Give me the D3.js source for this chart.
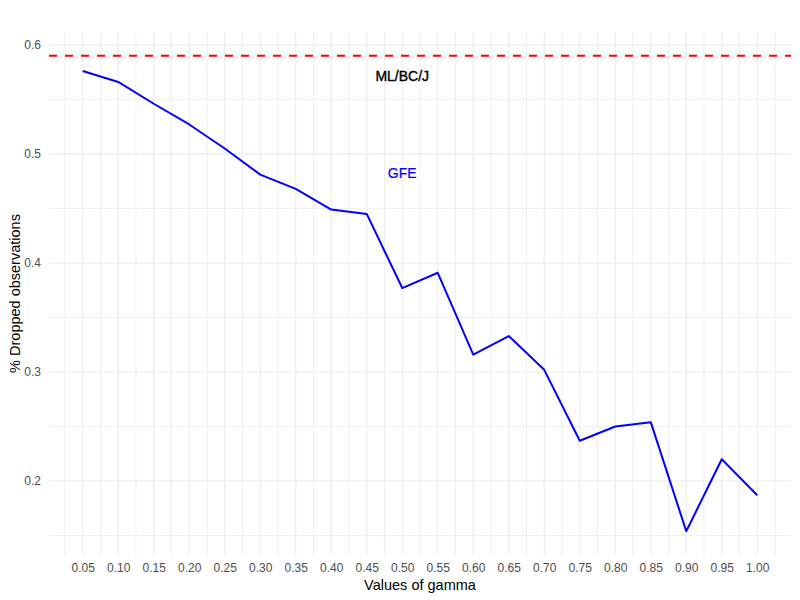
<!DOCTYPE html>
<html>
<head>
<meta charset="utf-8">
<script src="https://cdn.jsdelivr.net/npm/d3@7"></script>
<style>
  body { margin: 0; background: #fff; }
  text { font-family: "Liberation Sans", Arial, sans-serif; }
</style>
</head>
<body>
<div id="chart"></div>
<script>
var width = 800
var height = 600

// values of gamma and share of dropped observations (GFE)
var gamma = [0.05, 0.10, 0.15, 0.20, 0.25, 0.30, 0.35, 0.40, 0.45, 0.50,
             0.55, 0.60, 0.65, 0.70, 0.75, 0.80, 0.85, 0.90, 0.95, 1.00]
var dropped = [0.576, 0.566, 0.546, 0.527, 0.505, 0.481, 0.468, 0.449, 0.445, 0.377,
               0.391, 0.316, 0.333, 0.302, 0.237, 0.250, 0.254, 0.154, 0.220, 0.187]
var mlLevel = 0.59

var yMajor = [0.2, 0.3, 0.4, 0.5, 0.6]
var yMinor = [0.15, 0.25, 0.35, 0.45, 0.55]

var panel = { left: 49, right: 791, top: 32, bottom: 555 }

var svg = d3.select("#chart")
    .append("svg")
    .attr("width", width)
    .attr("height", height)

// ggplot style 5% expansion
var xExt = d3.extent(gamma)
var xPad = (xExt[1] - xExt[0]) * 0.05
var xScale = d3.scaleLinear()
    .domain([xExt[0] - xPad, xExt[1] + xPad])
    .range([panel.left, panel.right])

var yExt = d3.extent(dropped.concat([mlLevel]))
var yPad = (yExt[1] - yExt[0]) * 0.05
var yScale = d3.scaleLinear()
    .domain([yExt[0] - yPad, yExt[1] + yPad])
    .range([panel.bottom, panel.top])

// grid: minor x lines sit halfway between the gamma values
var xMinor = gamma.map(function(g) { return g - 0.025 }).concat([1.025])

var grid = svg.append("g")
grid.selectAll(".xminor").data(xMinor).enter().append("line")
    .attr("x1", d => xScale(d)).attr("x2", d => xScale(d))
    .attr("y1", panel.top).attr("y2", panel.bottom)
    .attr("stroke", "#ebebeb").attr("stroke-width", 0.8)
grid.selectAll(".yminor").data(yMinor).enter().append("line")
    .attr("y1", d => yScale(d)).attr("y2", d => yScale(d))
    .attr("x1", panel.left).attr("x2", panel.right)
    .attr("stroke", "#ebebeb").attr("stroke-width", 0.8)
grid.selectAll(".xmajor").data(gamma).enter().append("line")
    .attr("x1", d => xScale(d)).attr("x2", d => xScale(d))
    .attr("y1", panel.top).attr("y2", panel.bottom)
    .attr("stroke", "#ebebeb").attr("stroke-width", 1.1)
grid.selectAll(".ymajor").data(yMajor).enter().append("line")
    .attr("y1", d => yScale(d)).attr("y2", d => yScale(d))
    .attr("x1", panel.left).attr("x2", panel.right)
    .attr("stroke", "#ebebeb").attr("stroke-width", 1.1)

// axes, text only
var xAxis = d3.axisBottom(xScale)
    .tickValues(gamma)
    .tickFormat(d3.format(".2f"))
    .tickSize(0)
    .tickPadding(0)
var gx = svg.append("g")
    .attr("transform", "translate(0," + panel.bottom + ")")
    .call(xAxis)
gx.select(".domain").remove()
gx.selectAll("text")
    .attr("y", 17)
    .attr("dy", null)
    .style("font-size", "12px")
    .style("font-family", "Liberation Sans, Arial, sans-serif")
    .attr("fill", "#4d4d4d")

var yAxis = d3.axisLeft(yScale)
    .tickValues(yMajor)
    .tickFormat(d3.format(".1f"))
    .tickSize(0)
    .tickPadding(8)
var gy = svg.append("g")
    .attr("transform", "translate(" + panel.left + ",0)")
    .call(yAxis)
gy.select(".domain").remove()
gy.selectAll("text")
    .style("font-size", "12px")
    .style("font-family", "Liberation Sans, Arial, sans-serif")
    .attr("fill", "#4d4d4d")

// ML/BC/J reference level
svg.append("line")
    .attr("x1", panel.left).attr("x2", panel.right)
    .attr("y1", yScale(mlLevel)).attr("y2", yScale(mlLevel))
    .attr("stroke", "#ff0000")
    .attr("stroke-width", 2)
    .attr("stroke-dasharray", "8,8")

// GFE line
var line = d3.line()
    .x((d, i) => xScale(gamma[i]))
    .y(d => yScale(d))
svg.append("path")
    .datum(dropped)
    .attr("d", line)
    .attr("fill", "none")
    .attr("stroke", "#0000ff")
    .attr("stroke-width", 2)
    .attr("stroke-linejoin", "round")

// annotations
svg.append("text")
    .attr("x", xScale(0.5)).attr("y", 81)
    .attr("text-anchor", "middle")
    .style("font-size", "14px")
    .attr("fill", "#000")
    .attr("stroke", "#000").attr("stroke-width", 0.4)
    .text("ML/BC/J")
svg.append("text")
    .attr("x", xScale(0.5)).attr("y", 178)
    .attr("text-anchor", "middle")
    .style("font-size", "14px")
    .attr("fill", "#0000ff")
    .attr("stroke", "#0000ff").attr("stroke-width", 0.2)
    .text("GFE")

// axis titles
svg.append("text")
    .attr("x", (panel.left + panel.right) / 2)
    .attr("y", 590)
    .attr("text-anchor", "middle")
    .style("font-size", "14.5px")
    .attr("fill", "#000")
    .text("Values of gamma")
svg.append("text")
    .attr("transform", "translate(20," + (panel.top + panel.bottom) / 2 + ") rotate(-90)")
    .attr("text-anchor", "middle")
    .style("font-size", "14.5px")
    .attr("fill", "#000")
    .text("% Dropped observations")
</script>
</body>
</html>
